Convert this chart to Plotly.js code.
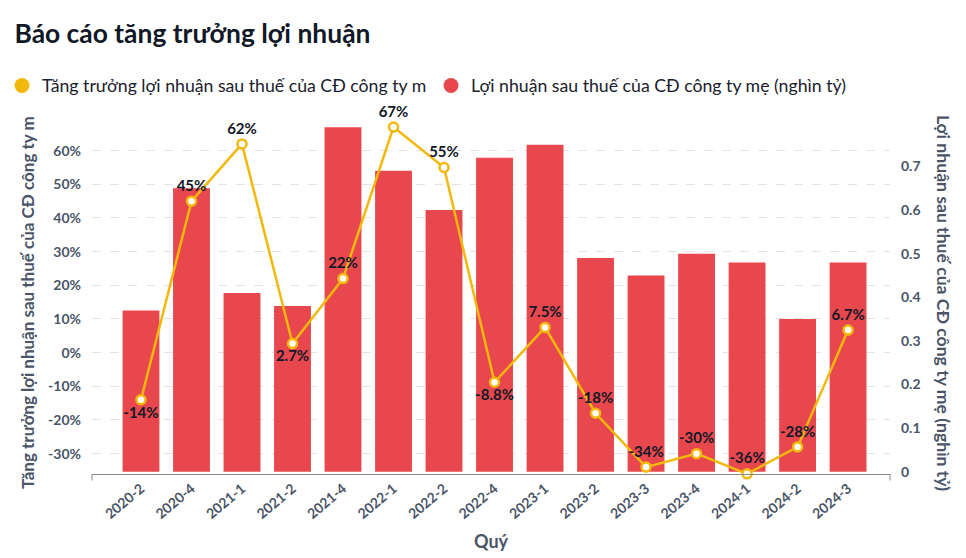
<!DOCTYPE html>
<html>
<head>
<meta charset="utf-8">
<script src="https://cdn.plot.ly/plotly-3.0.1.min.js"></script>
<style>html,body{margin:0;padding:0;background:#fff;}#chart{width:966px;height:558px;}</style>
</head>
<body>
<div id="chart"></div>
<script>
const quarters = ["2020-2","2020-4","2021-1","2021-2","2021-4","2022-1","2022-2","2022-4","2023-1","2023-2","2023-3","2023-4","2024-1","2024-2","2024-3"];
const profit = [0.37,0.65,0.41,0.38,0.79,0.69,0.60,0.72,0.75,0.49,0.45,0.50,0.48,0.35,0.48];
const growth = [-14,45,62,2.7,22,67,55,-8.8,7.5,-18,-34,-30,-36,-28,6.7];
const growthLabels = ["-14%","45%","62%","2.7%","22%","67%","55%","-8.8%","7.5%","-18%","-34%","-30%","-36%","-28%","6.7%"];
const labelPos = ["bottom center","top center","top center","bottom center","top center","top center","top center","bottom center","top center","top center","top center","top center","top center","top center","top center"];
const growthTicks = [-30,-20,-10,0,10,20,30,40,50,60];
const growthTickText = ["-30%","-20%","-10%","0%","10%","20%","30%","40%","50%","60%"];
const profitTicks = [0,0.1,0.2,0.3,0.4,0.5,0.6,0.7];
const profitTickText = ["0","0.1","0.2","0.3","0.4","0.5","0.6","0.7"];
const nameGrowth = "Tăng trưởng lợi nhuận sau thuế của CĐ công ty m";
const nameProfit = "Lợi nhuận sau thuế của CĐ công ty mẹ (nghìn tỷ)";

const RED = "#E8484D", GOLD = "#F2B80C", TICK = "#4A5568", DARK = "#111827";
const F = "Lato, 'Open Sans', sans-serif";

const data = [
  {type:"bar", x:quarters, y:profit, yaxis:"y", marker:{color:RED}, showlegend:false, hoverinfo:"x+y"},
  {type:"scatter", mode:"lines+markers+text", x:quarters, y:growth, yaxis:"y2",
   line:{color:GOLD, width:2.5}, marker:{size:9, color:"#ffffff", line:{color:GOLD, width:2.5}},
   text:growthLabels, textposition:labelPos, cliponaxis:false,
   textfont:{family:F, size:15, color:DARK, weight:"bold"}, showlegend:false},
  {type:"scatter", mode:"markers", x:[null], y:[null], yaxis:"y2", name:nameGrowth,
   marker:{size:15, color:GOLD}, legend:"legend"},
  {type:"scatter", mode:"markers", x:[null], y:[null], yaxis:"y2", name:nameProfit,
   marker:{size:15, color:RED}, legend:"legend2"}
];

const legendFont = {family:F, size:17.7, color:"#1a202c"};

const layout = {
  width:966, height:558,
  margin:{l:92, r:76, t:110, b:84, pad:0, autoexpand:false},
  paper_bgcolor:"#fff", plot_bgcolor:"#fff",
  font:{family:F, color:TICK},
  title:{text:"Báo cáo tăng trưởng lợi nhuận", x:0.015, xanchor:"left", y:0.94, yanchor:"middle",
         font:{family:F, size:26.4, color:"#111827", weight:"bold"}},
  bargap:0.27,
  showlegend:true,
  legend:{orientation:"h", xref:"container", yref:"container", x:2/966, xanchor:"left", y:0.846, yanchor:"middle",
          font:legendFont, bgcolor:"rgba(0,0,0,0)"},
  legend2:{orientation:"h", xref:"container", yref:"container", x:431/966, xanchor:"left", y:0.846, yanchor:"middle",
          font:legendFont, bgcolor:"rgba(0,0,0,0)"},
  xaxis:{type:"category", range:[-0.97,14.83], showline:true, linecolor:"#888", linewidth:1, automargin:false,
         showgrid:false, zeroline:false, ticks:"", tickangle:-40,
         tickfont:{family:F, size:14, color:TICK, weight:"bold"},
         title:{text:"Quý", font:{family:F, size:18, color:TICK, weight:"bold"}, standoff:14}},
  yaxis:{side:"right", range:[-0.0053,0.8296], tickvals:profitTicks, ticktext:profitTickText, automargin:false,
         showgrid:false, zeroline:false, showline:false, ticks:"", ticklabelstandoff:10,
         tickfont:{family:F, size:14, color:TICK, weight:"bold"}},
  yaxis2:{overlaying:"y", side:"left", range:[-36.05,72.08], tickvals:growthTicks, ticktext:growthTickText, automargin:false,
          showgrid:true, gridcolor:"#e3e3e3", griddash:"dash", gridwidth:1, zeroline:false, showline:false,
          ticks:"", ticklabelstandoff:10,
          tickfont:{family:F, size:14, color:TICK, weight:"bold"}},
  shapes:[
    {type:"line", xref:"paper", yref:"paper", x0:0, x1:0, y0:0, y1:-0.018, line:{color:"#888", width:1}},
    {type:"line", xref:"paper", yref:"paper", x0:1, x1:1, y0:0, y1:-0.018, line:{color:"#888", width:1}}
  ],
  annotations:[
    {text:nameGrowth, xref:"paper", yref:"paper", x:-0.0802, y:0.47, xanchor:"center", yanchor:"middle",
     textangle:-90, showarrow:false, font:{family:F, size:17, color:TICK, weight:"bold"}},
    {text:nameProfit, xref:"paper", yref:"paper", x:1.0664, y:0.47, xanchor:"center", yanchor:"middle",
     textangle:90, showarrow:false, font:{family:F, size:17.6, color:TICK, weight:"bold"}}
  ]
};

Plotly.newPlot("chart", data, layout, {displayModeBar:false, staticPlot:true});
</script>
</body>
</html>
